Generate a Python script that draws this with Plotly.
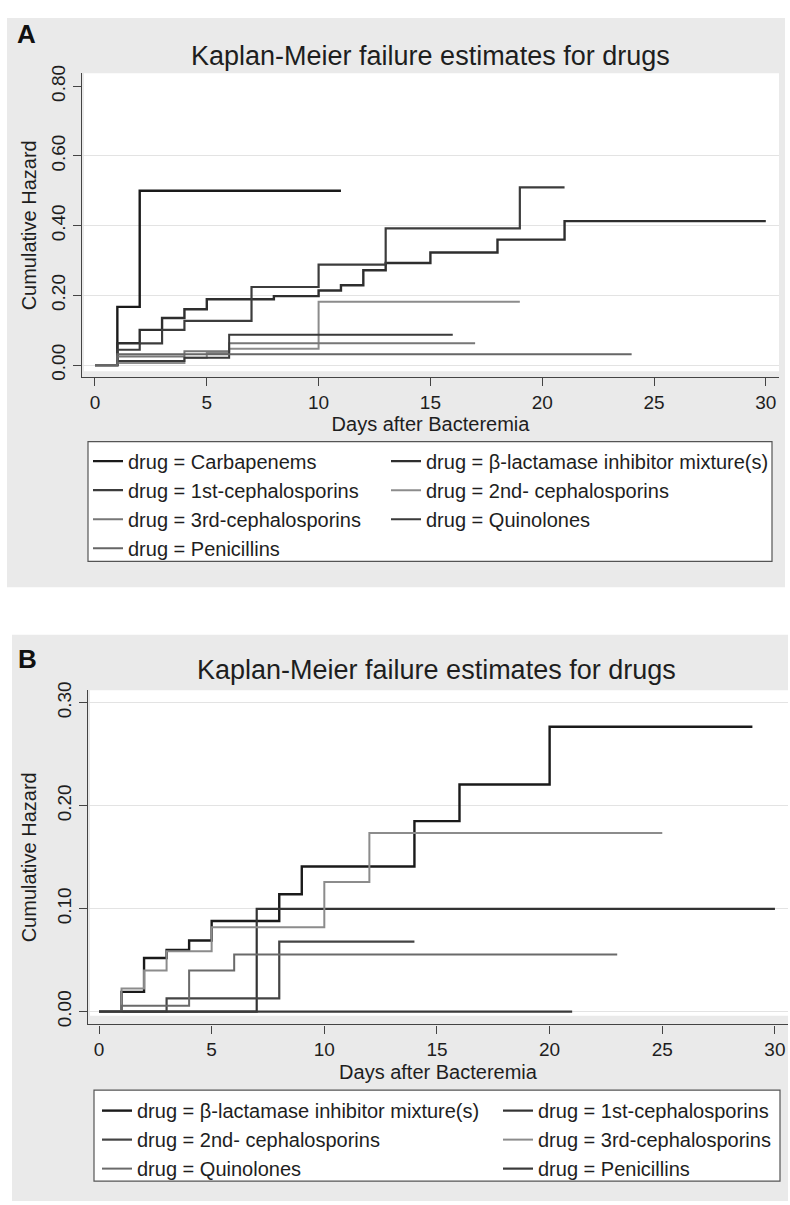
import plotly.graph_objects as go

# ---------------- Data ----------------
# Panel A – Kaplan-Meier cumulative hazard by drug
A_NAMES = ["drug = Carbapenems", "drug = β-lactamase inhibitor mixture(s)",
           "drug = 1st-cephalosporins", "drug = 2nd- cephalosporins",
           "drug = 3rd-cephalosporins", "drug = Quinolones", "drug = Penicillins"]
A_CARBA_DAYS = [0, 1, 2, 11]
A_CARBA_HAZ = [0, 0.167, 0.50, 0.50]
A_BLACT_DAYS = [0, 1, 2, 3, 4, 5, 8, 10, 11, 12, 13, 15, 18, 21, 30]
A_BLACT_HAZ = [0, 0.0625, 0.101, 0.135, 0.160, 0.189, 0.198, 0.214, 0.229, 0.272, 0.293, 0.323, 0.360, 0.413, 0.413]
A_CEPH1_DAYS = [0, 1, 2, 3, 4, 7, 10, 13, 19, 21]
A_CEPH1_HAZ = [0, 0.044, 0.0625, 0.101, 0.127, 0.224, 0.288, 0.392, 0.510, 0.510]
A_CEPH2_DAYS = [0, 1, 4, 5, 6, 10, 19]
A_CEPH2_HAZ = [0, 0.006, 0.021, 0.035, 0.047, 0.182, 0.182]
A_CEPH3_DAYS = [0, 1, 4, 6, 17]
A_CEPH3_HAZ = [0, 0.025, 0.040, 0.0625, 0.0625]
A_QUIN_DAYS = [0, 1, 4, 6, 16]
A_QUIN_HAZ = [0, 0.012, 0.021, 0.087, 0.087]
A_PEN_DAYS = [0, 1, 24]
A_PEN_HAZ = [0, 0.031, 0.031]

# Panel B
B_NAMES = ["drug = β-lactamase inhibitor mixture(s)", "drug = 1st-cephalosporins",
           "drug = 2nd- cephalosporins", "drug = 3rd-cephalosporins",
           "drug = Quinolones", "drug = Penicillins"]
B_BLACT_DAYS = [0, 1, 2, 3, 4, 5, 8, 9, 14, 16, 20, 29]
B_BLACT_HAZ = [0, 0.0192, 0.052, 0.060, 0.069, 0.088, 0.114, 0.141, 0.185, 0.2205, 0.2766, 0.2766]
B_CEPH1_DAYS = [0, 7, 30]
B_CEPH1_HAZ = [0, 0.0997, 0.0997]
B_CEPH2_DAYS = [0, 3, 8, 14]
B_CEPH2_HAZ = [0, 0.0129, 0.068, 0.068]
B_CEPH3_DAYS = [0, 1, 2, 3, 5, 10, 12, 25]
B_CEPH3_HAZ = [0, 0.0225, 0.040, 0.0587, 0.082, 0.126, 0.1735, 0.1735]
B_QUIN_DAYS = [0, 1, 4, 6, 23]
B_QUIN_HAZ = [0, 0.0058, 0.040, 0.0555, 0.0555]
B_PEN_DAYS = [0, 21]
B_PEN_HAZ = [0, 0]

X_TICKS = [0, 5, 10, 15, 20, 25, 30]
A_Y_TICKS = [0, 0.2, 0.4, 0.6, 0.8]
A_Y_TICKTEXT = ["0.00", "0.20", "0.40", "0.60", "0.80"]
A_GRID = [0, 0.2, 0.4, 0.6]
B_Y_TICKS = [0, 0.1, 0.2, 0.3]
B_Y_TICKTEXT = ["0.00", "0.10", "0.20", "0.30"]
B_GRID = [0, 0.1, 0.2, 0.3]

TITLE = "Kaplan-Meier failure estimates for drugs"
X_TITLE = "Days after Bacteremia"
Y_TITLE = "Cumulative Hazard"

# ---------------- Styling ----------------
W, H = 790, 1205
FONT = "Liberation Sans, Arial, sans-serif"
TXT = "#1e1e1e"
AXC = "#444444"
PANEL = "#eaeaea"
GRIDC = "#e3e3e3"

def px(x):
    return x / W

def py(y):
    return 1 - y / H

# (days, hazard, colour, width, legend column)
A_SERIES = [
    (A_CARBA_DAYS, A_CARBA_HAZ, "#1a1a1a", 2.4, "legend"),
    (A_BLACT_DAYS, A_BLACT_HAZ, "#2e2e2e", 2.4, "legend3"),
    (A_CEPH1_DAYS, A_CEPH1_HAZ, "#3c3c3c", 2.2, "legend"),
    (A_CEPH2_DAYS, A_CEPH2_HAZ, "#8c8c8c", 2.0, "legend3"),
    (A_CEPH3_DAYS, A_CEPH3_HAZ, "#777777", 2.0, "legend"),
    (A_QUIN_DAYS, A_QUIN_HAZ, "#3a3a3a", 2.0, "legend3"),
    (A_PEN_DAYS, A_PEN_HAZ, "#666666", 2.0, "legend"),
]
B_SERIES = [
    (B_BLACT_DAYS, B_BLACT_HAZ, "#1a1a1a", 2.4, "legend2"),
    (B_CEPH1_DAYS, B_CEPH1_HAZ, "#333333", 2.2, "legend4"),
    (B_CEPH2_DAYS, B_CEPH2_HAZ, "#444444", 2.2, "legend2"),
    (B_CEPH3_DAYS, B_CEPH3_HAZ, "#8c8c8c", 2.0, "legend4"),
    (B_QUIN_DAYS, B_QUIN_HAZ, "#6a6a6a", 2.0, "legend2"),
    (B_PEN_DAYS, B_PEN_HAZ, "#3a3a3a", 2.2, "legend4"),
]

fig = go.Figure()
for name, (d, h, c, w, lg) in zip(A_NAMES, A_SERIES):
    fig.add_trace(go.Scatter(x=d, y=h, mode="lines", name=name,
                             line=dict(shape="hv", color=c, width=w),
                             xaxis="x", yaxis="y", legend=lg))
for name, (d, h, c, w, lg) in zip(B_NAMES, B_SERIES):
    fig.add_trace(go.Scatter(x=d, y=h, mode="lines", name=name,
                             line=dict(shape="hv", color=c, width=w),
                             xaxis="x2", yaxis="y2", legend=lg))

def xaxis_cfg(dom, rng, anchor, standoff):
    return dict(domain=dom, range=rng, anchor=anchor, tickvals=X_TICKS,
                ticks="outside", ticklen=8, tickwidth=1.2, tickcolor=AXC,
                showline=True, linecolor=AXC, linewidth=1.3, showgrid=False,
                zeroline=False, tickfont=dict(size=19, color=TXT, family=FONT),
                title=dict(text=X_TITLE, font=dict(size=20, color=TXT, family=FONT),
                           standoff=standoff))

def yaxis_cfg(dom, rng, anchor, tv, tt, grid, standoff):
    return dict(domain=dom, range=rng, anchor=anchor, tickvals=tv, ticktext=tt,
                tickangle=-90, ticks="outside", ticklen=8, tickwidth=1.2,
                tickcolor=AXC, showline=True, linecolor=AXC, linewidth=1.3,
                showgrid=False, zeroline=False,
                minor=dict(tickvals=grid, showgrid=True, gridcolor=GRIDC,
                           gridwidth=1.2, ticks=""),
                tickfont=dict(size=19, color=TXT, family=FONT),
                title=dict(text=Y_TITLE, font=dict(size=20, color=TXT, family=FONT),
                           standoff=standoff))

def legend_cfg(x, y):
    return dict(orientation="v", x=px(x), y=py(y), xanchor="left", yanchor="top",
                bgcolor="rgba(0,0,0,0)", borderwidth=0, tracegroupgap=0,
                font=dict(size=20, color=TXT, family=FONT), traceorder="normal")

fig.update_layout(
    width=W, height=H, margin=dict(l=0, r=0, t=0, b=0),
    paper_bgcolor="white", plot_bgcolor="rgba(0,0,0,0)",
    font=dict(family=FONT, color=TXT),
    xaxis=xaxis_cfg([px(82), px(779)], [-0.581, 30.59], "y", 2),
    yaxis=yaxis_cfg([py(372), py(65)], [-0.035, 0.837], "x", A_Y_TICKS, A_Y_TICKTEXT, A_GRID, 6),
    xaxis2=xaxis_cfg([px(88), px(788)], [-0.488, 30.58], "y2", 5),
    yaxis2=yaxis_cfg([py(1025.7), py(688)], [-0.0125, 0.3122], "x2", B_Y_TICKS, B_Y_TICKTEXT, B_GRID, 12),
    legend=legend_cfg(88, 437),
    legend3=legend_cfg(386, 437),
    legend2=legend_cfg(97, 1093),
    legend4=legend_cfg(498, 1093),
    shapes=[
        dict(type="rect", xref="paper", yref="paper", x0=px(7), x1=px(785),
             y0=py(584), y1=py(9), fillcolor=PANEL, line=dict(width=0), layer="below"),
        dict(type="rect", xref="paper", yref="paper", x0=px(84), x1=px(779),
             y0=py(366), y1=py(65), fillcolor="white", line=dict(width=0), layer="below"),
        dict(type="rect", xref="paper", yref="paper", x0=px(88), x1=px(772),
             y0=py(558), y1=py(437), fillcolor="white",
             line=dict(width=1.2, color="#555555"), layer="below"),
        dict(type="rect", xref="paper", yref="paper", x0=px(12), x1=px(788),
             y0=py(1204), y1=py(632), fillcolor=PANEL, line=dict(width=0), layer="below"),
        dict(type="rect", xref="paper", yref="paper", x0=px(90), x1=px(788),
             y0=py(1017), y1=py(688), fillcolor="white", line=dict(width=0), layer="below"),
        dict(type="rect", xref="paper", yref="paper", x0=px(94), x1=px(780),
             y0=py(1184), y1=py(1092), fillcolor="white",
             line=dict(width=1.2, color="#555555"), layer="below"),
    ],
    annotations=[
        dict(text="<b>A</b>", x=px(15), y=py(25), xref="paper", yref="paper",
             xanchor="left", yanchor="middle", showarrow=False,
             font=dict(size=26, color="#111111", family=FONT)),
        dict(text="<b>B</b>", x=px(16), y=py(657), xref="paper", yref="paper",
             xanchor="left", yanchor="middle", showarrow=False,
             font=dict(size=26, color="#111111", family=FONT)),
        dict(text=TITLE, x=px(430), y=py(47), xref="paper", yref="paper",
             xanchor="center", yanchor="middle", showarrow=False,
             font=dict(size=27, color=TXT, family=FONT)),
        dict(text=TITLE, x=px(436), y=py(668), xref="paper", yref="paper",
             xanchor="center", yanchor="middle", showarrow=False,
             font=dict(size=27, color=TXT, family=FONT)),
    ],
    showlegend=True,
)

fig.write_html("out.html")
